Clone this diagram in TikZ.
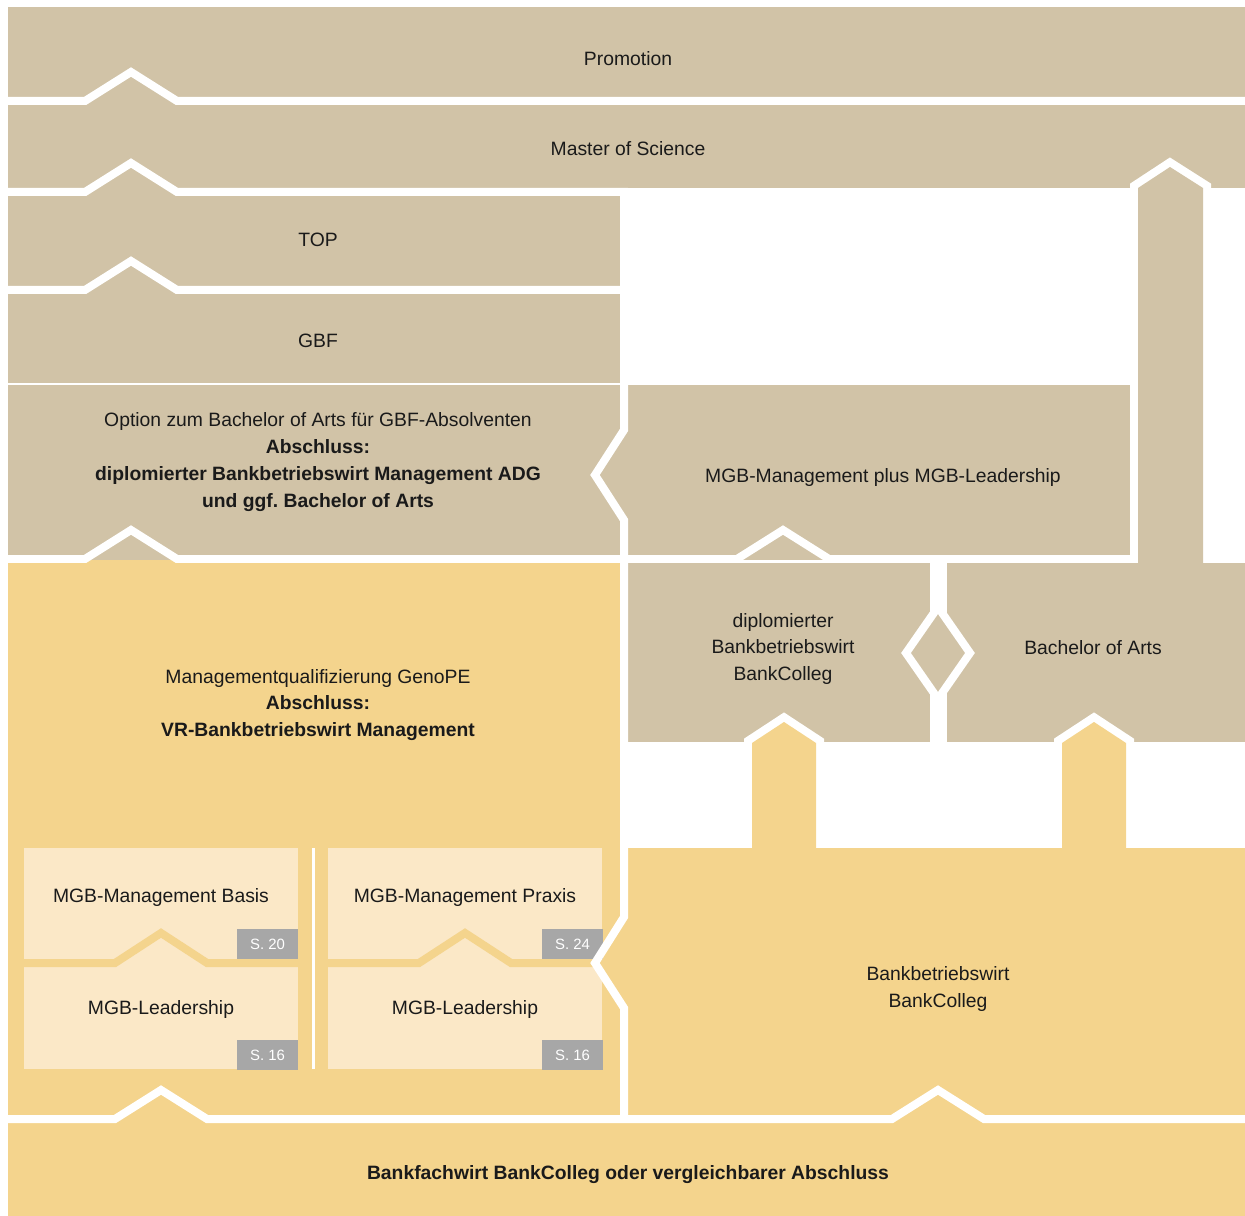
\documentclass[tikz,border=0pt]{standalone}
\usepackage{fontspec}
\setmainfont{Liberation Sans}
\frenchspacing
\definecolor{sand}{HTML}{D1C3A7}
\definecolor{gelb}{HTML}{F4D48D}
\definecolor{creme}{HTML}{FBE8C7}
\definecolor{tagfill}{HTML}{A7A7A7}
\definecolor{ink}{HTML}{1A1A1A}
\begin{document}
\begin{tikzpicture}[x=0.02cm,y=-0.02cm,
    sep/.style={draw=white,line width=0.16cm},
    halo/.style={draw=white,line width=0.32cm},
    lbl/.style={text=ink,align=center,font=\fontsize{11}{15.3}\selectfont},
    tagbox/.style={fill=tagfill,text=white,font=\fontsize{8.5}{10}\selectfont,
      minimum width=1.22cm,minimum height=0.6cm,inner sep=0pt}]
  \useasboundingbox (0,0) rectangle (1245,1216);
  % flaechen
  \fill[sand] (8,7) rectangle (1245,188);
  \fill[sand] (8,188) rectangle (624,560);
  \fill[sand] (624,385) rectangle (1130,560);
  \fill[sand] (628,563) rectangle (930,742);
  \fill[sand] (947,563) rectangle (1245,742);
  \fill[gelb] (8,560) rectangle (624,1119);
  \fill[gelb] (624,848) rectangle (1245,1119);
  \fill[gelb] (8,1119) rectangle (1245,1216);
  % module
  \foreach \x in {0,304} {
    \fill[creme] ({\x+24},848) rectangle ({\x+298},1069);
    \draw[gelb,line width=0.16cm] ({\x+24},963) -- ({\x+115},963) -- ({\x+161},933)
      -- ({\x+207},963) -- ({\x+298},963);
  }
  \draw[white,line width=0.06cm] (313,848) -- (313,1069);
  \foreach \x/\y/\p [count=\i] in {267.5/944/20,267.5/1055/16,572.5/944/24,572.5/1055/16}
    \node[tagbox] (tag\i) at (\x,\y) {S. \p};
  % trennlinien
  \draw[sep] (8,101) -- (85,101) -- (131,72) -- (177,101) -- (1245,101);
  \draw[sep] (8,192) -- (85,192) -- (131,163) -- (177,192) -- (628,192);
  \draw[sep] (8,290) -- (85,290) -- (131,261) -- (177,290) -- (624,290);
  \draw[white,line width=0.04cm] (8,384) -- (624,384);
  \draw[sep] (8,559) -- (85,559) -- (131,530) -- (177,559) -- (737,559)
    -- (783,530) -- (829,559) -- (1130,559);
  \draw[sep] (624,192) -- (624,430) -- (595,475) -- (624,520) -- (624,917)
    -- (595,963) -- (624,1008) -- (624,1119);
  \draw[sep] (8,1119) -- (115,1119) -- (161,1090) -- (207,1119) -- (892,1119)
    -- (938,1090) -- (984,1119) -- (1245,1119);
  \filldraw[fill=sand,sep] (938,607) -- (906,653) -- (938,699) -- (970,653) -- cycle;
  % pfeile
  \draw[halo] (1138,260) -- (1138,188) -- (1170,167) -- (1203,188) -- (1203,260);
  \fill[sand] (1138,563) -- (1138,188) -- (1170,167) -- (1203,188) -- (1203,563) -- cycle;
  \foreach \x in {784,1094} {
    \draw[halo] ({\x-32},770) -- ({\x-32},743) -- (\x,722) -- ({\x+32},743) -- ({\x+32},770);
    \fill[gelb] ({\x-32},848) -- ({\x-32},743) -- (\x,722) -- ({\x+32},743) -- ({\x+32},848) -- cycle;
  }
  % texte
  \node[lbl] (promo) at (628,59) {Promotion};
  \node[lbl] (msc) at (628,149) {Master of Science};
  \node[lbl] (top) at (318,240) {TOP};
  \node[lbl] (gbf) at (318,341) {GBF};
  \node[lbl] (option) at (318,462) {Option zum Bachelor of Arts für GBF-Absolventen\\
    \textbf{Abschluss:}\\\textbf{diplomierter Bankbetriebswirt Management ADG}\\
    \textbf{und ggf. Bachelor of Arts}};
  \node[lbl] (plus) at (883,478) {MGB-Management plus MGB-Leadership};
  \node[lbl] (dipl) at (783,649) {diplomierter\\Bankbetriebswirt\\BankColleg};
  \node[lbl] (ba) at (1093,648) {Bachelor of Arts};
  \node[lbl] (genope) at (318,705) {Managementqualifizierung GenoPE\\
    \textbf{Abschluss:}\\\textbf{VR-Bankbetriebswirt Management}};
  \node[lbl] (basis) at (161,898) {MGB-Management Basis};
  \node[lbl] (leadl) at (161,1009) {MGB-Leadership};
  \node[lbl] (praxis) at (465,898) {MGB-Management Praxis};
  \node[lbl] (leadr) at (465,1009) {MGB-Leadership};
  \node[lbl] (bbw) at (938,989) {Bankbetriebswirt\\BankColleg};
  \node[lbl] (bfw) at (628,1175) {\textbf{Bankfachwirt BankColleg oder vergleichbarer Abschluss}};
\end{tikzpicture}
\end{document}
